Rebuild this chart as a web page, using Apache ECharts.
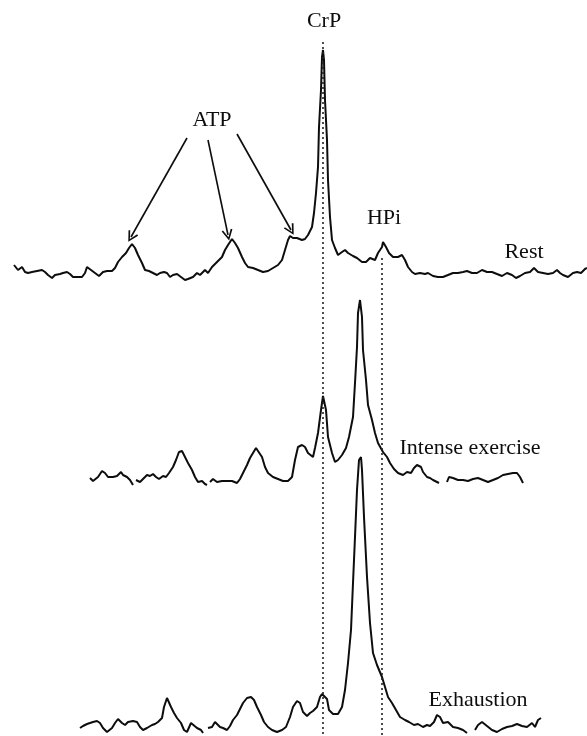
<!DOCTYPE html>
<html>
<head>
<meta charset="utf-8">
<script src="https://cdn.jsdelivr.net/npm/echarts@6/dist/echarts.min.js"></script>
<style>
html,body{margin:0;padding:0;background:#fff;}
#chart{width:587px;height:736px;}
</style>
</head>
<body>
<div id="chart"></div>
<script>
// ---- Data: chemical-shift position (arbitrary units) and signal intensity above each spectrum's baseline
const restShift = [14,18,22,25,28,32,37,42,45,48,52,55,60,63,67,70,73,78,82,85,87,91,95,99,103,107,112,115,118,122,126,129,132,135,138,142,145,149,153,157,160,164,167,170,173,177,181,185,188,193,197,200,205,208,212,217,222,225,228,232,235,238,242,245,248,253,258,263,268,273,278,282,285,288,290,293,297,302,305,308,312,314,316,318,319,321,322,323,324,325,327,328,330,332,335,338,342,345,348,353,357,362,366,370,375,378,382,383,386,389,393,398,402,405,408,412,415,420,425,428,433,438,443,448,453,458,463,467,472,477,482,487,492,497,502,507,512,516,520,525,530,534,538,543,548,553,557,560,563,568,573,577,581,585,587];
const restSignal = [7,2,5,0,-1,0,1,2,0,-3,-6,-3,-2,-1,0,-2,-5,-5,-5,-1,5,2,-1,-4,0,1,1,4,10,15,19,24,28,24,17,9,2,1,-1,-3,-1,0,-1,-5,-3,-2,-5,-8,-7,-5,-1,-3,2,-1,5,10,15,22,27,33,29,24,15,9,5,4,2,0,1,4,7,12,22,32,36,34,34,32,33,37,45,59,79,105,145,182,215,222,212,172,132,92,55,32,24,17,20,22,19,16,14,10,10,14,12,19,25,30,25,19,15,15,17,12,5,0,-2,-1,-2,-1,-4,-5,-5,-3,-1,-1,0,1,-1,-1,2,0,0,-2,-4,-1,-3,-6,-4,-1,0,4,0,-1,-2,-1,2,-1,-3,-5,-1,0,-1,3,4];

const exerciseShift = [90,93,98,102,105,108,113,117,121,123,127,130,133,134,136,140,143,147,150,153,156,159,163,166,169,173,176,179,182,185,188,192,195,198,202,205,207,208,210,213,217,222,227,232,237,240,243,247,250,253,256,258,262,265,268,273,278,283,288,292,295,298,302,305,308,313,315,318,321,323,324,326,328,332,335,338,342,346,349,353,355,357,358,360,362,363,366,368,372,375,378,383,387,390,394,398,403,407,411,414,417,421,423,427,430,433,437,439,443,447,449,453,458,463,468,473,478,483,488,493,498,503,508,513,517,520,523];
const exerciseSignal = [3,0,4,10,8,4,4,5,9,6,4,1,-4,null,1,-1,2,6,5,7,4,2,5,4,8,14,21,29,30,24,18,11,4,-1,0,-3,-4,null,-1,2,-1,0,0,0,-2,2,8,16,23,28,33,33,24,14,8,4,2,0,0,4,21,34,36,34,28,24,33,48,71,85,86,71,44,28,19,21,26,33,44,64,98,134,168,181,164,131,101,76,61,48,38,29,24,18,12,8,6,9,8,13,16,14,9,4,3,1,-1,-2,null,-1,4,3,1,1,0,2,3,1,-1,1,3,6,7,8,8,4,-2];

const exhaustionShift = [80,83,87,90,93,97,100,103,107,112,115,118,122,125,128,133,137,140,143,147,152,155,158,162,164,167,169,171,174,177,181,184,187,191,193,197,201,203,205,208,212,215,217,220,223,227,230,233,237,240,243,247,251,254,257,261,264,268,272,277,282,286,290,293,297,300,303,307,310,313,317,320,322,324,327,329,333,338,342,345,348,351,353,355,357,359,361,362,364,367,370,373,377,382,385,388,392,396,400,405,409,414,418,423,427,430,434,437,440,443,448,453,458,463,467,471,475,478,482,487,492,497,502,507,512,517,522,527,532,535,538,541];
const exhaustionSignal = [-1,1,3,4,5,6,4,-1,-5,-1,4,8,4,2,5,6,5,0,-3,-1,2,3,5,9,20,29,28,20,14,9,4,-3,-5,4,2,-1,-3,-6,null,-1,0,5,7,0,-1,-3,1,7,12,18,24,29,30,27,20,12,5,0,-3,-5,-3,0,10,20,26,24,15,11,14,16,20,30,33,34,28,17,13,13,20,37,64,97,144,190,237,267,270,257,210,150,104,74,62,50,40,30,24,17,10,7,5,2,3,0,2,1,5,12,10,4,5,0,-1,-3,-6,null,-3,2,5,1,-3,-5,-2,0,1,3,1,0,4,0,7,9];

const spectrumNames = ['Rest', 'Intense exercise', 'Exhaustion'];
const peakLabels = ['ATP', 'CrP', 'HPi'];

// ---- layout constants (not data)
const W = 587, H = 736;
const baselines = [464, 255, 9];          // vertical offset of each stacked spectrum, in axis units
const crpGuide = {x: 323, top: 694};
const hpiGuide = {x: 382, top: 478};
const atpArrows = [[[187,598],[131,499]], [[208,596],[228,501]], [[237,602],[291,506]]];

function build(shift, signal, off) {
  return shift.map((x, i) => [x, signal[i] === null ? null : signal[i] + off]);
}

const serif = '"Liberation Serif", "DejaVu Serif", serif';
const ink = '#0d0d0d';
const lineStyle = {color: ink, width: 2};
const chevron = 'path://M5,0 L10,10 L8.6,10.8 L5,3.2 L1.4,10.8 L0,10 Z';

function label(text, x, y) {
  return {type: 'text', x: x, y: y, style: {text: text, font: '22px ' + serif, fill: ink, align: 'center', verticalAlign: 'middle'}};
}

const chart = echarts.init(document.getElementById('chart'), null, {renderer: 'canvas'});
chart.setOption({
  animation: false,
  backgroundColor: '#ffffff',
  grid: {left: 0, right: 0, top: 0, bottom: 0},
  xAxis: {type: 'value', min: 0, max: W, show: false},
  yAxis: {type: 'value', min: 0, max: H, show: false},
  series: [
    {
      name: spectrumNames[0], type: 'line', showSymbol: false, smooth: false,
      data: build(restShift, restSignal, baselines[0]), lineStyle: lineStyle,
      markLine: {
        silent: true, animation: false,
        label: {show: false},
        data: [
          [{coord: [crpGuide.x, crpGuide.top], symbol: 'none'}, {coord: [crpGuide.x, 0], symbol: 'none'}],
          [{coord: [hpiGuide.x, hpiGuide.top], symbol: 'none'}, {coord: [hpiGuide.x, 0], symbol: 'none'}]
        ].map(d => { d[0].lineStyle = {type: [2, 3], color: '#222', width: 1.6}; return d; })
         .concat(atpArrows.map(a => [
           {coord: a[0], symbol: 'none', lineStyle: {type: 'solid', color: ink, width: 1.6}},
           {coord: a[1], symbol: chevron, symbolSize: [11, 11], itemStyle: {color: ink}}
         ]))
      }
    },
    {
      name: spectrumNames[1], type: 'line', showSymbol: false, connectNulls: false,
      data: build(exerciseShift, exerciseSignal, baselines[1]), lineStyle: lineStyle
    },
    {
      name: spectrumNames[2], type: 'line', showSymbol: false, connectNulls: false,
      data: build(exhaustionShift, exhaustionSignal, baselines[2]), lineStyle: lineStyle
    }
  ],
  graphic: [
    label(peakLabels[1], 324, 21),
    label(peakLabels[0], 212, 120),
    label(peakLabels[2], 384, 218),
    label(spectrumNames[0], 524, 252),
    label(spectrumNames[1], 470, 448),
    label(spectrumNames[2], 478, 700)
  ]
});
</script>
</body>
</html>
